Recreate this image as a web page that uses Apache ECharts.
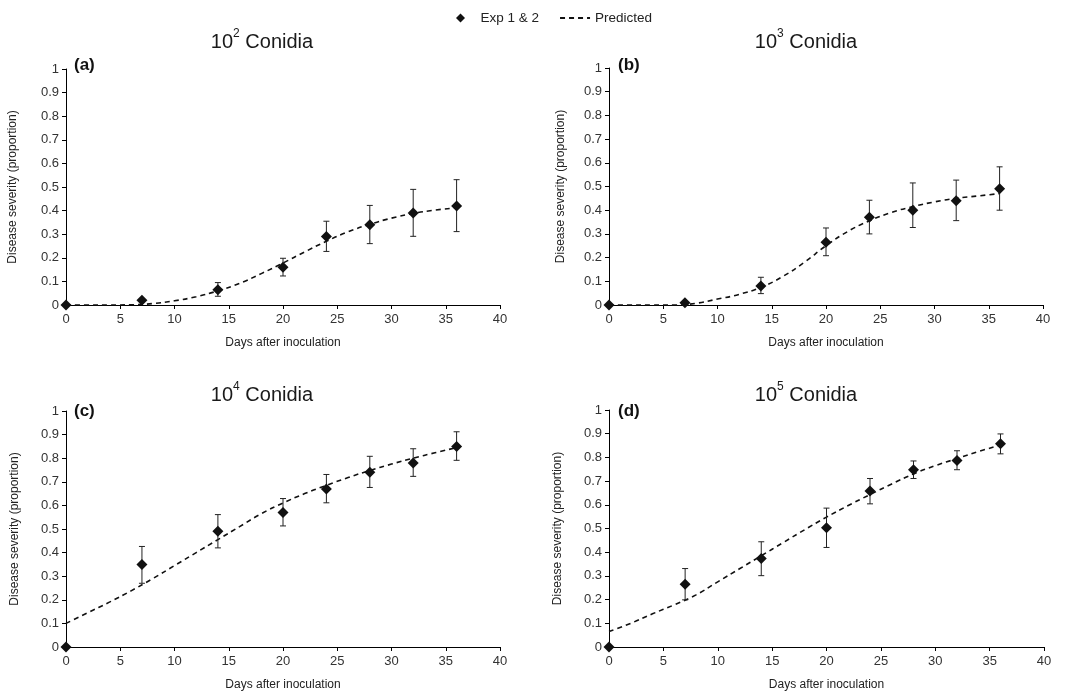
<!DOCTYPE html>
<html>
<head>
<meta charset="utf-8">
<script src="https://cdn.jsdelivr.net/npm/echarts@6/dist/echarts.min.js"></script>
<style>
  html, body { margin: 0; padding: 0; background: #fff; }
  #chart { width: 1069px; height: 692px; }
</style>
</head>
<body>
<div id="chart"></div>
<script>
var FONT = 'Arial, "Liberation Sans", sans-serif';

// observed sampling days
var days = [0, 7, 14, 20, 24, 28, 32, 36];

// observed mean severity, and error bar low / high (null = no bar)
var sevA  = [0, 0.02, 0.065, 0.16, 0.29, 0.34, 0.39, 0.42];
var lowA  = [null, null, 0.037, 0.123, 0.227, 0.26, 0.291, 0.311];
var highA = [null, null, 0.095, 0.198, 0.355, 0.422, 0.49, 0.531];

var sevB  = [0, 0.01, 0.08, 0.265, 0.37, 0.40, 0.44, 0.49];
var lowB  = [null, null, 0.048, 0.208, 0.30, 0.327, 0.356, 0.40];
var highB = [null, null, 0.117, 0.325, 0.442, 0.515, 0.527, 0.583];

var sevC  = [0, 0.35, 0.49, 0.57, 0.67, 0.74, 0.78, 0.85];
var lowC  = [null, 0.27, 0.42, 0.513, 0.611, 0.676, 0.723, 0.791];
var highC = [null, 0.426, 0.561, 0.629, 0.731, 0.808, 0.84, 0.912];

var sevD  = [0, 0.265, 0.373, 0.503, 0.658, 0.748, 0.787, 0.858];
var lowD  = [null, 0.199, 0.301, 0.42, 0.604, 0.711, 0.748, 0.815];
var highD = [null, 0.331, 0.444, 0.586, 0.711, 0.785, 0.828, 0.899];

// predicted curves
var predDays = [0, 2, 4, 6, 8, 10, 12, 14, 16, 18, 20, 22, 24, 26, 28, 30, 32, 34, 36];
var predA = [0, 0, 0, 0.001, 0.006, 0.018, 0.035, 0.06, 0.092, 0.133, 0.178, 0.225, 0.27, 0.31, 0.342, 0.368, 0.388, 0.402, 0.412];
var predB = [0, 0, 0, 0, 0.007, 0.025, 0.045, 0.075, 0.12, 0.18, 0.25, 0.31, 0.355, 0.39, 0.415, 0.435, 0.45, 0.46, 0.47];
var predC = [0.1, 0.145, 0.19, 0.238, 0.29, 0.345, 0.40, 0.455, 0.51, 0.565, 0.61, 0.65, 0.685, 0.718, 0.748, 0.775, 0.80, 0.823, 0.845];
var predD = [0.065, 0.1, 0.14, 0.178, 0.22, 0.275, 0.33, 0.385, 0.44, 0.495, 0.548, 0.597, 0.643, 0.688, 0.73, 0.765, 0.795, 0.825, 0.852];

var titles = ['2', '3', '4', '5'];
var tags = ['(a)', '(b)', '(c)', '(d)'];

var grids = [
    {left: 66, top: 69, width: 434, height: 236},
    {left: 609, top: 68, width: 434, height: 237},
    {left: 66, top: 411, width: 434, height: 236},
    {left: 609, top: 410, width: 435, height: 237}
];
var yNameGap = [47, 42, 45, 45];
var titlePos = [[262, 40], [806, 40], [262, 393], [806, 393]];
var tagPos = [[74, 65], [618, 65], [74, 411], [618, 411]];

var panels = [
    [sevA, lowA, highA, predA],
    [sevB, lowB, highB, predB],
    [sevC, lowC, highC, predC],
    [sevD, lowD, highD, predD]
];

function renderErr(params, api) {
    var x = api.value(0);
    var top = api.coord([x, api.value(2)]);
    var bot = api.coord([x, api.value(1)]);
    var w = 3;
    var st = {stroke: '#222', lineWidth: 1};
    return {
        type: 'group',
        children: [
            {type: 'line', shape: {x1: top[0], y1: top[1], x2: bot[0], y2: bot[1]}, style: st},
            {type: 'line', shape: {x1: top[0] - w, y1: top[1], x2: top[0] + w, y2: top[1]}, style: st},
            {type: 'line', shape: {x1: bot[0] - w, y1: bot[1], x2: bot[0] + w, y2: bot[1]}, style: st}
        ]
    };
}

var xAxes = [], yAxes = [], series = [], graphics = [];

panels.forEach(function (p, i) {
    var sev = p[0], low = p[1], high = p[2], pred = p[3];
    xAxes.push({
        type: 'value', gridIndex: i, min: 0, max: 40, interval: 5,
        name: 'Days after inoculation', nameLocation: 'middle', nameGap: 32,
        nameTextStyle: {fontFamily: FONT, fontSize: 12, color: '#222'},
        axisLine: {lineStyle: {color: '#000', width: 1}},
        axisTick: {show: true, length: 4, lineStyle: {color: '#000'}},
        axisLabel: {fontFamily: FONT, fontSize: 13, color: '#333', margin: 8},
        splitLine: {show: false}
    });
    yAxes.push({
        type: 'value', gridIndex: i, min: 0, max: 1, interval: 0.1,
        name: 'Disease severity (proportion)', nameLocation: 'middle', nameGap: yNameGap[i],
        nameTextStyle: {fontFamily: FONT, fontSize: 12, color: '#222'},
        axisLine: {show: true, lineStyle: {color: '#000', width: 1}},
        axisTick: {show: true, length: 4, lineStyle: {color: '#000'}},
        axisLabel: {fontFamily: FONT, fontSize: 13, color: '#333', margin: 7},
        splitLine: {show: false}
    });

    var pts = days.map(function (d, k) { return [d, sev[k]]; });
    var errs = [];
    days.forEach(function (d, k) {
        if (low[k] != null) errs.push([d, low[k], high[k]]);
    });
    var curve = predDays.map(function (d, k) { return [d, pred[k]]; });

    series.push({
        name: 'Predicted', type: 'line', xAxisIndex: i, yAxisIndex: i,
        data: curve, smooth: true, symbol: 'none', z: 2,
        lineStyle: {color: '#111', width: 1.6, type: [5, 4]},
        itemStyle: {color: '#111'}
    });
    series.push({
        name: 'errbar', type: 'custom', xAxisIndex: i, yAxisIndex: i,
        data: errs, renderItem: renderErr, z: 3,
        encode: {x: 0, y: [1, 2]}, silent: true
    });
    series.push({
        name: 'Exp 1 & 2', type: 'scatter', xAxisIndex: i, yAxisIndex: i,
        data: pts, symbol: 'diamond', symbolSize: 11, z: 4, clip: false,
        itemStyle: {color: '#111', opacity: 1}
    });

    graphics.push({
        type: 'text', x: titlePos[i][0], y: titlePos[i][1],
        style: {
            text: '{n|10}{s|' + titles[i] + '}{n| Conidia}',
            align: 'center', verticalAlign: 'middle', fill: '#1a1a1a',
            rich: {
                n: {fontFamily: FONT, fontSize: 20, lineHeight: 24, verticalAlign: 'bottom', fill: '#1a1a1a'},
                s: {fontFamily: FONT, fontSize: 12, lineHeight: 12, verticalAlign: 'top', fill: '#1a1a1a'}
            }
        }
    });
    graphics.push({
        type: 'text', x: tagPos[i][0], y: tagPos[i][1],
        style: {
            text: tags[i], fill: '#111', verticalAlign: 'middle',
            font: 'bold 17px ' + FONT
        }
    });
});

var option = {
    animation: false,
    backgroundColor: '#fff',
    legend: {
        data: [
            {name: 'Exp 1 & 2', icon: 'path://M0,-1L1,0L0,1L-1,0Z'},
            {name: 'Predicted', itemStyle: {opacity: 0}}
        ],
        symbolKeepAspect: true,
        left: 451, top: 6,
        itemWidth: 30, itemHeight: 9, itemGap: 20,
        textStyle: {fontFamily: FONT, fontSize: 13.5, color: '#222'}
    },
    grid: grids,
    xAxis: xAxes,
    yAxis: yAxes,
    series: series,
    graphic: graphics
};

var myChart = echarts.init(document.getElementById('chart'));
myChart.setOption(option);
</script>
</body>
</html>
